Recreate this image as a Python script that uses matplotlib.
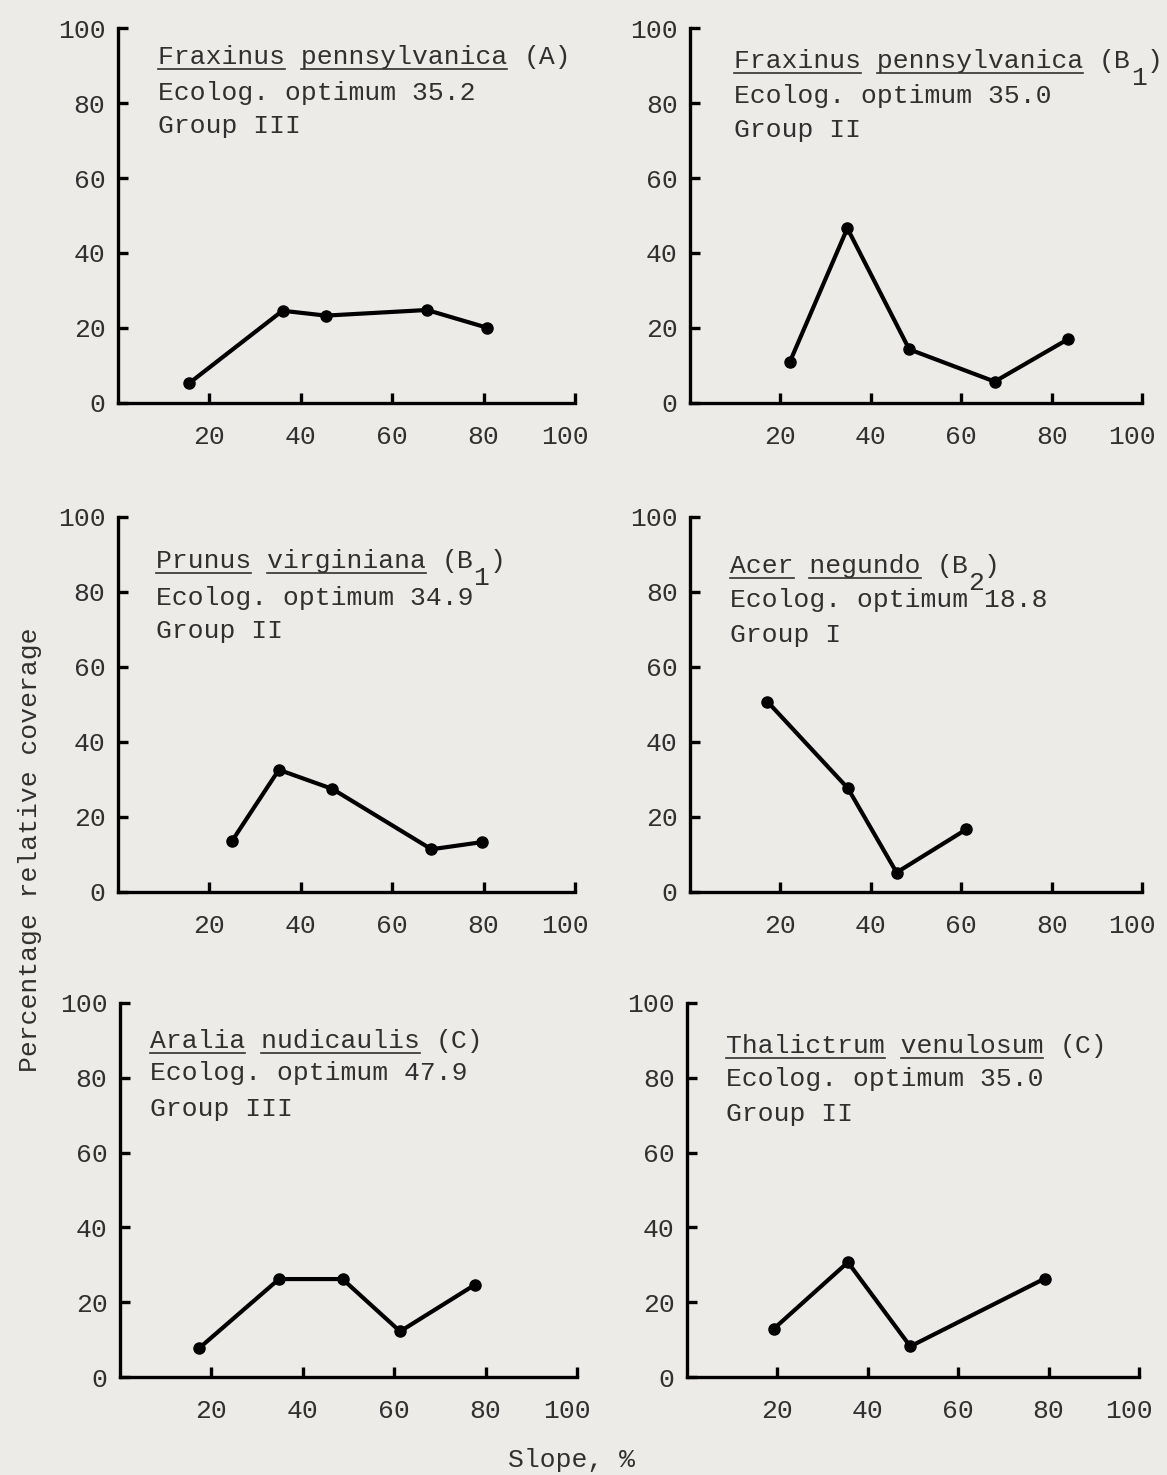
import numpy as np
import matplotlib
matplotlib.use('Agg')
import matplotlib.pyplot as plt
import matplotlib.transforms as mtransforms
from matplotlib.font_manager import FontProperties
from matplotlib.lines import Line2D

# ---- data (slope %, percentage relative coverage)
frax_a_x = [15.6, 36.0, 45.5, 67.6, 80.7]
frax_a_y = [5.3, 24.6, 23.3, 24.8, 20.1]

frax_b_x = [22.1, 34.8, 48.5, 67.4, 83.6]
frax_b_y = [11.0, 46.6, 14.3, 5.7, 17.0]

prunus_x = [25.0, 35.2, 46.9, 68.6, 79.6]
prunus_y = [13.6, 32.5, 27.4, 11.3, 13.2]

acer_x = [17.1, 34.9, 45.7, 61.1]
acer_y = [50.7, 27.6, 5.1, 16.6]

aralia_x = [17.4, 34.8, 48.7, 61.3, 77.7]
aralia_y = [7.8, 26.2, 26.2, 12.2, 24.7]

thal_x = [19.2, 35.6, 49.4, 79.1]
thal_y = [12.9, 30.7, 8.2, 26.3]

genus = ['Fraxinus', 'Fraxinus', 'Prunus', 'Acer', 'Aralia', 'Thalictrum']
species = ['pennsylvanica', 'pennsylvanica', 'virginiana', 'negundo',
           'nudicaulis', 'venulosum']
zone = ['A', 'B', 'B', 'B', 'C', 'C']
zone_sub = ['', '1', '1', '2', '', '']
optimum = ['35.2', '35.0', '34.9', '18.8', '47.9', '35.0']
group = ['III', 'II', 'II', 'I', 'III', 'II']

xticks = [20, 40, 60, 80, 100]
yticks = [0, 20, 40, 60, 80, 100]

series = [(frax_a_x, frax_a_y), (frax_b_x, frax_b_y), (prunus_x, prunus_y),
          (acer_x, acer_y), (aralia_x, aralia_y), (thal_x, thal_y)]

# axes rectangles in figure fraction (left, bottom, width, height)
rects = [(0.1011, 0.7268, 0.3916, 0.2542),
         (0.5913, 0.7268, 0.3873, 0.2542),
         (0.1011, 0.3955, 0.3916, 0.2542),
         (0.5913, 0.3955, 0.3873, 0.2542),
         (0.1028, 0.0664, 0.3916, 0.2536),
         (0.5887, 0.0664, 0.3873, 0.2536)]
# text anchor (axes fraction): x, baselines of the three lines
text_pos = [(0.088, 0.904, 0.808, 0.719),
            (0.097, 0.8925, 0.799, 0.7085),
            (0.083, 0.862, 0.765, 0.676),
            (0.0885, 0.849, 0.760, 0.665),
            (0.066, 0.881, 0.793, 0.697),
            (0.086, 0.866, 0.778, 0.685)]

FONT = 'Liberation Mono'
FS = 19
ink = '#303030'
paper = '#ecebe8'

plt.rcParams['font.family'] = [FONT, 'DejaVu Sans Mono']

fig = plt.figure(figsize=(11.67, 14.75), dpi=100)
fig.patch.set_facecolor(paper)

renderer = fig.canvas.get_renderer()
prop = FontProperties(family=FONT, size=FS)
w, h, d = renderer.get_text_width_height_descent('M' * 20, prop, ismath=False)
char_w = w / 20.0
to_fig = fig.transFigure.inverted()

for i in range(6):
    ax = fig.add_axes(rects[i])
    ax.set_facecolor(paper)
    xs, ys = series[i]
    ax.plot(xs, ys, color='k', linewidth=3.0, marker='o', markersize=8,
            solid_capstyle='round', clip_on=False)
    ax.set_xlim(0, 100)
    ax.set_ylim(0, 100)
    ax.set_xticks(xticks)
    ax.set_yticks(yticks)
    ax.set_xticklabels([str(v) for v in xticks])
    ax.set_yticklabels([str(v) for v in yticks])
    ax.spines['top'].set_visible(False)
    ax.spines['right'].set_visible(False)
    for s in ['left', 'bottom']:
        ax.spines[s].set_linewidth(2.4)
        ax.spines[s].set_color('k')
    ax.tick_params(axis='x', direction='in', length=7, width=2.4, pad=16,
                   labelsize=FS, labelcolor=ink)
    ax.tick_params(axis='y', direction='in', length=7, width=2.4, pad=9,
                   labelsize=FS, labelcolor=ink)
    # the typed "100" sits a little left of its tick
    last = ax.get_xticklabels()[-1]
    last.set_transform(last.get_transform() +
                       mtransforms.ScaledTranslation(-10 / 100, 0, fig.dpi_scale_trans))

    tx, b1, b2, b3 = text_pos[i]
    name = genus[i] + ' ' + species[i]
    ax.text(tx, b1, name, transform=ax.transAxes, fontsize=FS, color=ink,
            va='baseline', ha='left')
    ax.text(tx, b2, 'Ecolog. optimum ' + optimum[i], transform=ax.transAxes,
            fontsize=FS, color=ink, va='baseline', ha='left')
    ax.text(tx, b3, 'Group ' + group[i], transform=ax.transAxes,
            fontsize=FS, color=ink, va='baseline', ha='left')

    # zone label after the name, with typewriter-style subscript
    ox, oy = ax.transAxes.transform((tx, b1))
    sx = ox + (len(name) + 1) * char_w
    if zone_sub[i]:
        p = to_fig.transform((sx, oy))
        fig.text(p[0], p[1], '(' + zone[i], fontsize=FS, color=ink,
                 va='baseline', ha='left')
        p = to_fig.transform((sx + 2 * char_w, oy - 17))
        fig.text(p[0], p[1], zone_sub[i], fontsize=FS, color=ink,
                 va='baseline', ha='left')
        p = to_fig.transform((sx + 3 * char_w, oy))
        fig.text(p[0], p[1], ')', fontsize=FS, color=ink,
                 va='baseline', ha='left')
    else:
        p = to_fig.transform((sx, oy))
        fig.text(p[0], p[1], '(' + zone[i] + ')', fontsize=FS, color=ink,
                 va='baseline', ha='left')

    # underline genus and species separately
    for start, word in [(0, genus[i]), (len(genus[i]) + 1, species[i])]:
        a = to_fig.transform((ox + start * char_w, oy - 5))
        b = to_fig.transform((ox + (start + len(word)) * char_w, oy - 5))
        fig.add_artist(Line2D([a[0], b[0]], [a[1], b[1]], color=ink,
                              linewidth=1.2, transform=fig.transFigure))

fig.text(0.026, 0.424, 'Percentage relative coverage', rotation=90,
         fontsize=FS, color=ink, ha='center', va='center')
fig.text(0.49, 0.0105, 'Slope, %', fontsize=FS, color=ink,
         ha='center', va='center')

fig.savefig('out.png', dpi=100, facecolor=paper)
plt.close(fig)
